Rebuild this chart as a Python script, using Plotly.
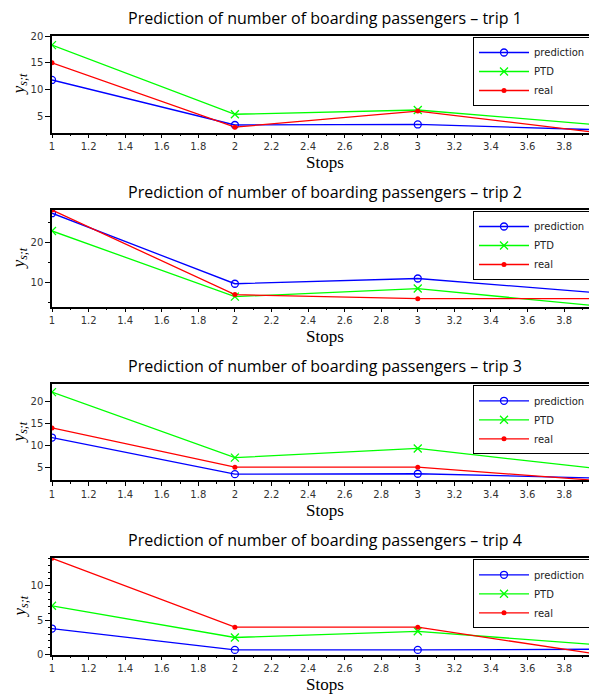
import plotly.graph_objects as go

# The page body adds an 8px margin, so the figure is sized/positioned to compensate.
OFF = 8
W, H = 597 - OFF, 695 - OFF

stops = [1, 2, 3, 4]
trips = ["1", "2", "3", "4"]

prediction_t1 = [11.8, 3.4, 3.5, 2.5]
ptd_t1 = [18.3, 5.4, 6.2, 3.4]
real_t1 = [15, 3, 6, 1.9]

prediction_t2 = [27.2, 9.7, 11.0, 7.4]
ptd_t2 = [22.8, 6.5, 8.5, 4.1]
real_t2 = [28, 7, 6, 6]

prediction_t3 = [11.8, 3.4, 3.5, 2.5]
ptd_t3 = [22.2, 7.2, 9.3, 4.6]
real_t3 = [14, 5, 5, 1.9]

prediction_t4 = [3.8, 0.7, 0.7, 0.8]
ptd_t4 = [7.1, 2.5, 3.4, 1.4]
real_t4 = [14, 4, 4, 0]

y_ranges = [[2, 20], [4, 28], [2, 24], [0, 14]]
y_dticks = [5, 10, 5, 5]
y_minor = [None, 5, None, 1]

series = [
    (prediction_t1, ptd_t1, real_t1),
    (prediction_t2, ptd_t2, real_t2),
    (prediction_t3, ptd_t3, real_t3),
    (prediction_t4, ptd_t4, real_t4),
]

# pixel layout of plot areas in page pixels (top, bottom)
areas = [(36, 132.5), (210, 306.7), (384.3, 480.3), (558.3, 654.7)]
left_px = 52


def px_x(p):
    return (p - OFF) / W


def px_y(p):
    return 1 - (p - OFF) / H


fig = go.Figure()
tick_font = dict(family="DejaVu Sans", size=10, color="#333333")
serif = "Liberation Serif, DejaVu Serif, serif"

for i, (pred, ptd, real) in enumerate(series):
    n = "" if i == 0 else str(i + 1)
    xa, ya = "x" + n, "y" + n
    leg = "legend" + n
    top, bot = areas[i]
    fig.add_trace(go.Scatter(x=stops, y=pred, name="prediction", mode="lines+markers",
                             line=dict(color="#0000ff", width=1.3),
                             marker=dict(symbol="circle-open", size=7, color="#0000ff", line=dict(width=1.3)),
                             xaxis=xa, yaxis=ya, legend=leg, cliponaxis=True))
    fig.add_trace(go.Scatter(x=stops, y=ptd, name="PTD", mode="lines+markers",
                             line=dict(color="#00ff00", width=1.3),
                             marker=dict(symbol="x-thin-open", size=8, color="#00ff00", line=dict(width=1.3, color="#00ff00")),
                             xaxis=xa, yaxis=ya, legend=leg, cliponaxis=True))
    fig.add_trace(go.Scatter(x=stops, y=real, name="real", mode="lines+markers",
                             line=dict(color="#ff0000", width=1.3),
                             marker=dict(symbol="circle", size=5, color="#ff0000"),
                             xaxis=xa, yaxis=ya, legend=leg, cliponaxis=True))
    ydom = [px_y(bot), px_y(top)]
    xkey = "xaxis" + n
    ykey = "yaxis" + n
    fig.layout[xkey] = dict(domain=[px_x(left_px), 1.0], range=[1, 3.98], dtick=0.2, tick0=1,
                            showgrid=False, zeroline=False, showline=True, linecolor="black",
                            linewidth=1.5, mirror=True, ticks="outside", ticklen=4, tickcolor="black",
                            minor=dict(ticks="outside", ticklen=2, dtick=0.1, tickcolor="black"),
                            tickfont=tick_font, anchor=ya, automargin=False)
    yax = dict(domain=ydom, range=y_ranges[i], dtick=y_dticks[i], tick0=0,
               showgrid=False, zeroline=False, showline=True, linecolor="black", linewidth=1.5,
               ticks="outside", ticklen=5, tickcolor="black", tickfont=tick_font, anchor=xa,
               automargin=False)
    if y_minor[i]:
        yax["minor"] = dict(ticks="outside", ticklen=2, dtick=y_minor[i], tickcolor="black")
    fig.layout[ykey] = yax
    fig.layout[leg] = dict(x=px_x(473), y=px_y(top + 1), xanchor="left", yanchor="top",
                           bordercolor="black", borderwidth=1, bgcolor="white",
                           font=dict(family="DejaVu Sans", size=10, color="#222222"),
                           tracegroupgap=0, itemwidth=50)
    fig.add_annotation(text="Prediction of number of boarding passengers \u2013 trip " + trips[i],
                       x=px_x(325), y=px_y(top - 18), xref="paper", yref="paper",
                       showarrow=False, xanchor="center", yanchor="middle",
                       font=dict(family="Open Sans", size=16, color="black"))
    fig.add_annotation(text="Stops", x=px_x(325), y=px_y(bot + 30), xref="paper", yref="paper",
                       showarrow=False, xanchor="center", yanchor="middle",
                       font=dict(family=serif, size=17, color="black"))
    fig.add_annotation(text="<i>y</i><sub><i>s;t</i></sub>", x=px_x(20), y=px_y((top + bot) / 2),
                       xref="paper", yref="paper", showarrow=False, textangle=-90,
                       xanchor="center", yanchor="middle",
                       font=dict(family=serif, size=17, color="black"))

fig.update_layout(width=W, height=H, margin=dict(l=0, r=0, t=0, b=0, autoexpand=False),
                  paper_bgcolor="white", plot_bgcolor="white", showlegend=True)

fig.write_html("out.html")
